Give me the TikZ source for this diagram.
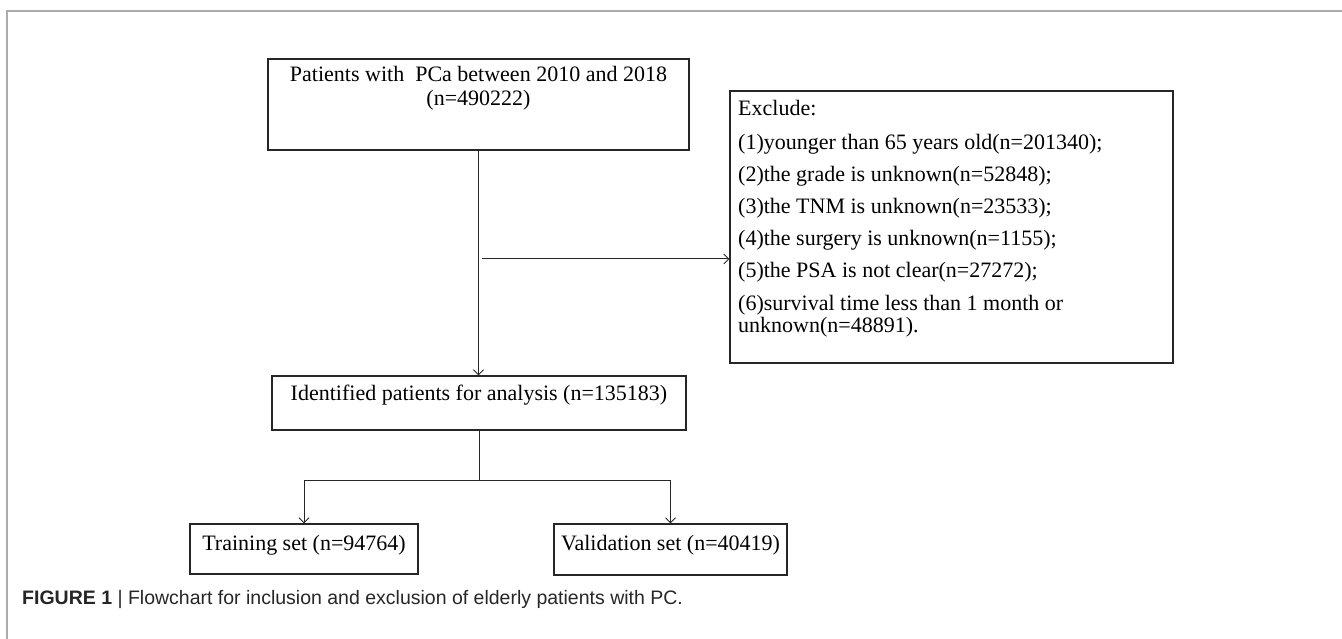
\documentclass[tikz,border=0pt]{standalone}
\usepackage{fontspec}
\setmainfont{Liberation Serif}
\newfontfamily\capfont{Liberation Sans}
\usepackage{xcolor}
\usepackage{tikz}
\usetikzlibrary{positioning,calc,arrows.meta}

\tikzset{
    box/.style={draw=black!85, line width=1.1pt, inner sep=0pt},
    txt/.style={font=\fontsize{22}{22}\selectfont, inner sep=0pt},
    arr/.style={-{Straight Barb[length=5pt,width=10pt]}, line width=1pt, black!85}
}

\begin{document}
\begin{tikzpicture}[x=1pt, y=-1pt]
    \useasboundingbox (0,0) rectangle (1342,639);

    % Frame
    \draw[gray!65, line width=1.2pt] (7,639) |- (1342,11);

    % Source box
    \node[box, minimum width=421pt, minimum height=91pt] (src) at (478.5,104.5) {};
    \node[txt, anchor=base] (srcA) at (478.5,82) {Patients with\ \ PCa between 2010 and 2018};
    \node[txt, anchor=base] (srcB) at (478.5,106) {(n=490222)};

    % Exclusion box
    \node[box, minimum width=443pt, minimum height=272pt] (exc) at (951.5,227) {};
    \foreach \yy/\line in {116/Exclude:,
                           150/(1)younger than 65 years old(n=201340);,
                           182/(2)the grade is unknown(n=52848);,
                           214/(3)the TNM is unknown(n=23533);,
                           246/(4)the surgery is unknown(n=1155);,
                           278/(5)the PSA is not clear(n=27272);,
                           310/(6)survival time less than 1 month or,
                           332/unknown(n=48891).} {
        \node[txt, anchor=base west] at (738,\yy) {\line};
    }

    % Selected patients
    \node[box, minimum width=414pt, text height=24pt, text depth=30pt] (sel) at (479,403)
        {\fontsize{22}{22}\selectfont Identified patients for analysis (n=135183)};

    % Training / validation
    \node[box, minimum width=228pt, text height=26pt, text depth=24pt] (trn) at (304,549)
        {\fontsize{22}{22}\selectfont Training set (n=94764)};
    \node[box, minimum width=233pt, text height=26pt, text depth=25pt] (val) at (670.5,549.5)
        {\fontsize{22}{22}\selectfont Validation set (n=40419)};

    % Connectors
    \draw[arr] (src.south) -- (src.south |- sel.north);
    \coordinate (branch) at (482,259);
    \draw[arr] (branch) -- (branch -| exc.west);
    \coordinate (fork) at ($(sel.south)+(0,50)$);
    \draw[line width=1pt, black!85] (sel.south) -- (fork);
    \draw[arr] (fork) -| (trn.north);
    \draw[arr] (fork) -| (val.north);

    % Caption
    \node[anchor=base west, inner sep=0pt, black!85, font=\capfont\fontsize{19.5}{20}\selectfont] (cap) at (22,604)
        {\textbf{FIGURE 1} | Flowchart for inclusion and exclusion of elderly patients with PC.};
\end{tikzpicture}
\end{document}
